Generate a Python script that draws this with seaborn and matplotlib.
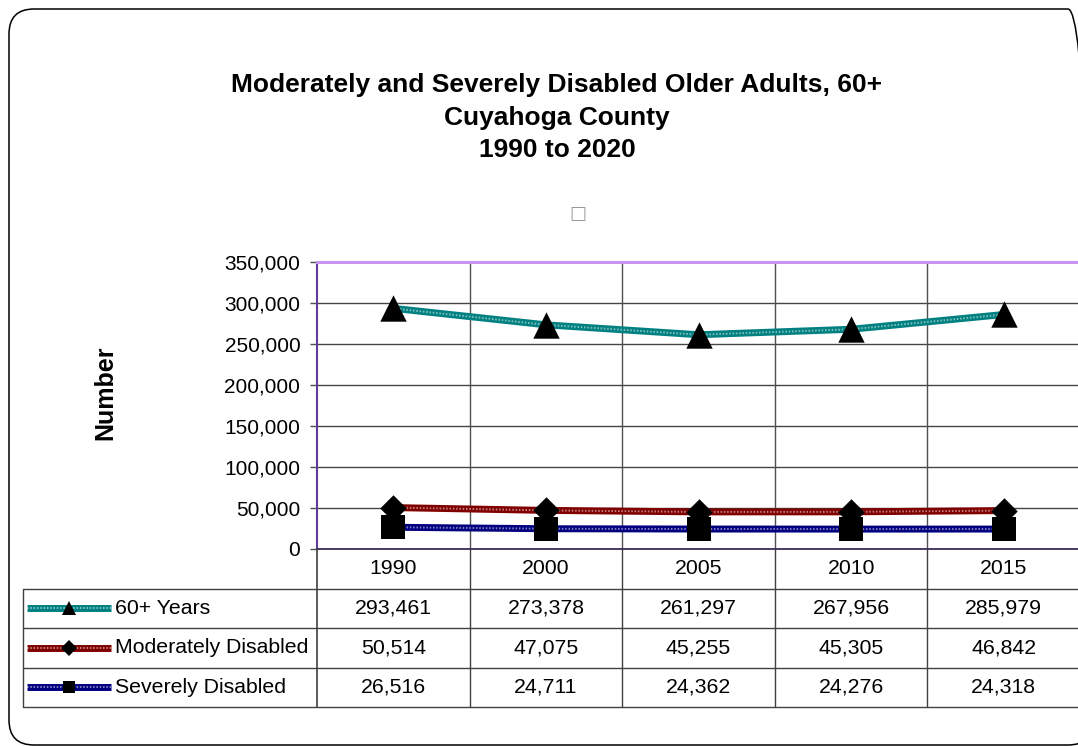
import numpy as np
import pandas as pd
import matplotlib
matplotlib.use('Agg')
import matplotlib.pyplot as plt
import seaborn as sns
from matplotlib.patches import FancyBboxPatch
from matplotlib.transforms import IdentityTransform

# ---------------- data ----------------
years = ['1990', '2000', '2005', '2010', '2015']
series_names = ['60+ Years', 'Moderately Disabled', 'Severely Disabled']
age60 = [293461, 273378, 261297, 267956, 285979]
moderate = [50514, 47075, 45255, 45305, 46842]
severe = [26516, 24711, 24362, 24276, 24318]
y_ticks = [0, 50000, 100000, 150000, 200000, 250000, 300000, 350000]
title_lines = ['Moderately and Severely Disabled Older Adults, 60+',
               'Cuyahoga County', '1990 to 2020']
y_label = 'Number'

series_values = [age60, moderate, severe]
colors = ['#008080', '#800000', '#000080']
markers = ['^', 'D', 's']
msizes = [19, 13.5, 17]
key_msizes = [10.5, 8, 9]

df = pd.DataFrame({
    'pos': list(range(len(years))) * len(series_names),
    'Year': years * len(series_names),
    'Value': [v for vals in series_values for v in vals],
    'Series': [s for s in series_names for _ in years],
})

sns.set_style('white')
plt.rcParams['font.family'] = ['Liberation Sans', 'DejaVu Sans']
plt.rcParams['text.color'] = 'black'
plt.rcParams['axes.labelcolor'] = 'black'
plt.rcParams['xtick.color'] = 'black'
plt.rcParams['ytick.color'] = 'black'

W, H = 1078, 746
fig = plt.figure(figsize=(W / 100, H / 100), dpi=100)


def fx(px):
    return px / W


def fy(py):
    return 1 - py / H


L, R, T, B = 317, 1080, 262, 549
ax = fig.add_axes([fx(L), fy(B), fx(R) - fx(L), fy(T) - fy(B)])

LW = 5.0
# lines
sns.lineplot(data=df, x='pos', y='Value', hue='Series', palette=colors,
             hue_order=series_names, lw=LW, legend=False, ax=ax, zorder=2,
             sort=False)
for s in series_names:
    sub = df[df['Series'] == s]
    sns.lineplot(data=sub, x='pos', y='Value', color='white', lw=1.4,
                 alpha=0.5, ls=(0, (0.8, 0.9)), legend=False, ax=ax,
                 zorder=2.1, sort=False)

# markers
for s, m, ms in zip(series_names, markers, msizes):
    sub = df[df['Series'] == s]
    sns.scatterplot(data=sub, x='pos', y='Value', marker=m, color='black',
                    s=ms ** 2, edgecolor='black', linewidth=0, legend=False,
                    ax=ax, zorder=4)

ax.set_xlim(-0.5, len(years) - 0.5)
ax.set_ylim(0, 350000)
ax.set_yticks(y_ticks)
ax.set_yticklabels([f'{v:,}' for v in y_ticks], fontsize=15, color='black')
ax.set_xticks([])
ax.set_xlabel('')
ax.set_ylabel('')
for v in y_ticks[1:-1]:
    ax.axhline(v, color='#454545', lw=1.0, zorder=1)
for i in range(len(years) - 1):
    ax.axvline(i + 0.5, color='#505050', lw=1.0, zorder=1)
ax.tick_params(axis='y', length=5, width=1, color='#505050', pad=7,
               left=True, direction='out')
ax.spines['left'].set_color('#5E3C99')
ax.spines['left'].set_linewidth(1.5)
ax.spines['top'].set_color('#C896F0')
ax.spines['top'].set_linewidth(2.2)
ax.spines['bottom'].set_color('#3A2A55')
ax.spines['bottom'].set_linewidth(1.3)
ax.spines['right'].set_visible(False)
ax.patch.set_alpha(0)

# ---------------- data table ----------------
TL, TB = 23, 707
tax = fig.add_axes([fx(TL), fy(TB), fx(R) - fx(TL), fy(B) - fy(TB)])
cw = (R - L) / len(years)
x0 = -0.5 - (L - TL) / cw
xr = len(years) - 0.5
tax.set_xlim(x0, xr)
tax.set_ylim(4, 0)
tax.axis('off')
lc = '#404040'
for yy in [1, 2, 3, 4]:
    tax.plot([x0, xr], [yy, yy], color=lc, lw=1.0, clip_on=False)
tax.plot([x0, x0], [1, 4], color=lc, lw=1.0, clip_on=False)
tax.plot([-0.5, -0.5], [0, 4], color='#404040', lw=1.2, clip_on=False)
for i in range(len(years) - 1):
    tax.plot([i + 0.5, i + 0.5], [0, 4], color=lc, lw=1.0, clip_on=False)

for i, yv in enumerate(years):
    tax.text(i, 0.5, yv, ha='center', va='center', fontsize=15.3)
for r, (s, vals, c, m, kms) in enumerate(zip(series_names, series_values,
                                              colors, markers, key_msizes)):
    yc = r + 1.5
    for i, v in enumerate(vals):
        tax.text(i, yc, f'{v:,}', ha='center', va='center', fontsize=15.3)
    kx0 = x0 + 4 / cw
    kx1 = x0 + 88 / cw
    kxm = x0 + 46 / cw
    tax.plot([kx0, kx1], [yc, yc], color=c, lw=LW, solid_capstyle='butt')
    tax.plot([kx0, kx1], [yc, yc], color='white', lw=1.4, alpha=0.5,
             ls=(0, (0.8, 0.9)))
    tax.plot([kxm], [yc], marker=m, color='black', ms=kms, mew=0)
    tax.text(x0 + 92 / cw, yc, s, ha='left', va='center', fontsize=15.3)

# ---------------- titles ----------------
for line, yb in zip(title_lines, [92, 125, 157]):
    fig.text(fx(557), fy(yb), line, ha='center', va='baseline',
             fontsize=19, fontweight='bold')
fig.text(fx(578), fy(214), '\u25a1', ha='center', va='center',
         fontsize=13, color='#999999', family=['DejaVu Sans'])
fig.text(fx(105), fy(393), y_label, rotation=90, ha='center', va='center',
         fontsize=18, fontweight='bold')

# outer rounded frame
frame = FancyBboxPatch((9, 1), 1084, 736,
                       boxstyle='round,pad=0,rounding_size=25',
                       transform=IdentityTransform(), fill=False,
                       edgecolor='black', lw=1.1)
fig.add_artist(frame)

fig.savefig('out.png', dpi=100)
